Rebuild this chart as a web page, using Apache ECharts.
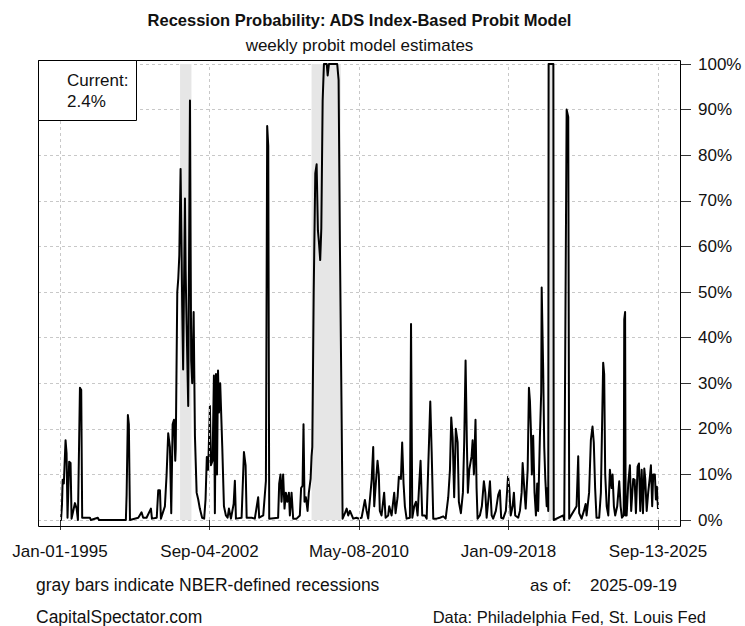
<!DOCTYPE html>
<html><head><meta charset="utf-8">
<script src="https://cdn.jsdelivr.net/npm/echarts@6/dist/echarts.min.js"></script>
<style>html,body{margin:0;padding:0;background:#fff}#c{width:745px;height:626px}</style>
</head><body><div id="c"></div>
<script>
// ---- data ----
const dates = [
'1995-01-01','1995-01-20','1995-02-07','1995-02-20','1995-03-14','1995-04-15','1995-05-04','1995-05-22','1995-06-22','1995-07-18','1995-08-06','1995-10-08','1995-11-09','1995-12-03',
'1996-01-10','1996-02-03','1996-02-21','1996-07-15','1996-08-01','1996-12-10',
'1997-01-01','1998-05-20','1998-06-03','1998-06-27','1998-07-15','1998-08-05',
'1999-01-08','1999-03-10','1999-04-10','1999-06-12','1999-09-02','1999-09-21','1999-12-20',
'2000-01-17','2000-02-18','2000-03-07','2000-05-21','2000-06-22','2000-07-22','2000-08-23','2000-09-17','2000-10-13','2000-11-07','2000-12-01','2000-12-10',
'2001-01-08','2001-01-27','2001-02-15','2001-03-11','2001-03-29','2001-04-10','2001-04-28','2001-06-01','2001-06-13','2001-07-02','2001-08-01','2001-09-03','2001-09-15','2001-09-26','2001-10-15','2001-11-11','2001-12-05',
'2002-01-06','2002-02-05','2002-03-07','2002-04-19','2002-05-27','2002-06-22','2002-07-16','2002-08-10','2002-09-12','2002-10-01','2002-11-01','2002-11-26','2002-12-14',
'2003-01-04','2003-01-23','2003-02-11','2003-03-01','2003-03-24','2003-05-01','2003-06-02','2003-07-09','2003-08-10','2003-09-04','2003-10-11','2003-12-01','2003-12-24',
'2004-01-13','2004-04-28','2004-06-11','2004-07-12','2004-08-01','2004-11-03',
'2005-01-01','2005-03-05','2005-03-24','2005-06-08','2005-07-28','2005-08-21','2005-09-10','2005-09-28',
'2006-03-14','2006-04-03','2006-04-28','2006-05-17','2006-06-16','2006-07-12','2006-08-06','2006-09-01','2006-10-02','2006-10-20','2006-11-21','2006-12-21',
'2007-02-24','2007-04-25','2007-05-19','2007-06-15','2007-07-03','2007-07-22','2007-08-16','2007-09-17','2007-10-11','2007-11-13','2007-12-01','2007-12-15',
'2008-01-10','2008-02-09','2008-03-05','2008-03-29','2008-04-17','2008-05-11','2008-06-01','2008-06-26','2008-07-20','2008-09-10','2008-09-28','2008-10-22',
'2009-03-26','2009-04-21','2009-05-15','2009-06-13','2009-07-05','2009-08-18','2009-09-19','2009-10-19','2009-11-20',
'2010-01-20','2010-03-24','2010-04-24','2010-06-26','2010-08-27','2010-09-28','2010-10-28',
'2011-01-01','2011-01-30','2011-02-18','2011-03-20','2011-04-21','2011-05-15','2011-06-03','2011-07-05','2011-08-23','2011-09-19','2011-11-07','2011-11-26',
'2012-01-10','2012-02-28','2012-03-24','2012-05-01','2012-05-25','2012-07-02','2012-07-26','2012-08-21','2012-09-15','2012-10-17','2012-12-18',
'2013-01-08','2013-02-01','2013-03-09','2013-04-10','2013-05-11','2013-06-11','2013-07-06','2013-08-06','2013-09-26','2013-10-28','2013-11-28',
'2014-01-04','2014-01-30','2014-03-01','2014-05-03','2014-07-03','2014-09-04','2014-10-19','2014-12-07',
'2015-01-08','2015-02-01','2015-02-28','2015-03-28','2015-04-28','2015-06-01','2015-06-24','2015-08-01','2015-09-08','2015-10-02','2015-10-28','2015-11-21','2015-12-10',
'2016-01-05','2016-02-18','2016-03-08','2016-04-01','2016-05-01','2016-05-21','2016-06-09','2016-07-22','2016-08-28','2016-10-05','2016-11-01','2016-11-26',
'2017-01-02','2017-01-27','2017-02-28','2017-03-28','2017-05-17','2017-07-01','2017-08-01','2017-08-25','2017-10-02','2017-11-21',
'2018-01-01','2018-01-25','2018-02-20','2018-03-28','2018-04-21','2018-05-15','2018-07-11','2018-08-12','2018-09-13','2018-10-02','2018-11-01','2018-11-28',
'2019-01-04','2019-01-28','2019-02-16','2019-03-05','2019-03-24','2019-04-17','2019-05-13','2019-06-08','2019-07-02','2019-07-20','2019-08-21','2019-09-15','2019-09-24','2019-10-22','2019-11-11','2019-12-01','2019-12-27',
'2020-01-13','2020-01-25','2020-02-01','2020-04-30','2020-05-07','2020-11-01','2020-11-20',
'2021-01-04','2021-02-03','2021-02-21','2021-07-09','2021-08-09','2021-08-27','2021-10-11','2021-11-24','2021-12-26',
'2022-01-13','2022-03-01','2022-04-03','2022-05-04','2022-05-28','2022-06-22','2022-07-18','2022-09-06','2022-10-08','2022-10-27','2022-11-20','2022-12-09','2022-12-28',
'2023-01-25','2023-02-24','2023-03-26','2023-04-27','2023-05-15','2023-06-09','2023-07-03','2023-08-10','2023-09-17','2023-10-13','2023-11-07','2023-12-10','2023-12-20',
'2024-01-05','2024-01-15','2024-02-03','2024-03-04','2024-04-04','2024-04-28','2024-06-05','2024-07-02','2024-07-26','2024-08-27','2024-09-21','2024-10-15','2024-11-11','2024-12-05','2024-12-30',
'2025-01-17','2025-02-13','2025-03-13','2025-04-14','2025-05-03','2025-05-27','2025-06-15','2025-07-16','2025-08-05','2025-08-23','2025-09-13'
];
const probs = [
0,0,3.3,8.8,8,17.5,14.7,0.5,12.8,12.5,0.3,3.7,2.5,0,
29,28.5,0.5,0.5,0,0.5,
0,0,5.5,23,21,0,
0.5,1.7,0.5,0.5,2.5,0.3,0.5,
6.5,6.5,0.3,3,10,19,16,1.5,21,22,13,15.6,
50,53,58,77,60,47,33,70.5,55,43,25,92,60,35,30,45.6,18.5,
6,4.5,2.5,0.5,0.3,4.5,13.8,11,25,12,13,31.7,1.5,
32,10,32.8,23.6,30,16.3,3,1,0.5,2.5,0.3,3.5,8.6,
0.3,0.5,14.9,12,0.5,0.5,
0.3,5,0.5,1,8.6,86.4,82,0.3,
0.5,8,10,4,10,2.5,6,4,6,1,6,0.3,
0.3,1,7,7.5,21,4,5,2,6,9,14,16,
50,76,78,63.5,61,57,64,92,100,100,97.5,100,
100,96.5,61,27,0.3,1.5,2.5,1,2,
0.3,0.5,0.3,0.5,4.4,2,0.3,
8.8,16,3,8,13,10,2,1,6,0.5,1,3,
1,6,1.5,5,9.5,9,17,8,3,0.3,0.5,
43,0.5,3,4,1,8,13,1,1,0.3,12,
26,15,0.3,0.3,0.5,0.8,0.3,5,
11,22.5,18,5,20,17,4,1.5,6,17,35,17,6,
11,14,17.5,10,22,7,0.3,1,3,8.5,6,0.5,
5,8.5,1,0.3,2,5.5,6.5,0.5,0.3,2,
9.5,7,1,3,6,1,0.5,2,6,12.5,7,2.5,
11,29,26,20,10,18.5,6,1,8,2,18,28,51,33,16,9,3,
7,2,100,100,0,1,0,
90,88.4,0.3,3,14,1.5,0.3,2,3.5,
1,6,17.5,20.5,17,7,0.5,0.5,6,18.5,34.5,32,10,
3,1,11,7,10,3,1,3,8.5,3,0.5,1,44,
45.6,1,1,8,12,2,9,8.8,1.5,11.7,12.4,2,11,1.5,11.3,
9,2,6,9.5,12,3,10,10,4.5,7.3,2.4
];
const recessionStarts = ['2001-03-01','2007-12-01','2020-02-01'];
const recessionEnds   = ['2001-10-01','2009-06-01','2020-04-30'];
const xTickDates  = ['1995-01-01','2002-09-04','2010-05-08','2018-01-09','2025-09-13'];
const xTickLabels = ['Jan-01-1995','Sep-04-2002','May-08-2010','Jan-09-2018','Sep-13-2025'];
const yTickValues = [0,10,20,30,40,50,60,70,80,90,100];

// ---- chart ----
const ts = s => new Date(s + 'T00:00:00Z').getTime();
const tickTs = xTickDates.map(ts);
const t0 = tickTs[0], t1 = tickTs[tickTs.length - 1], span = t1 - t0;
const FONT = '"Liberation Sans", Arial, sans-serif';
const FS = 17;
const chart = echarts.init(document.getElementById('c'), null, {renderer: 'svg'});
const current = probs[probs.length - 1].toFixed(1) + '%';
const labelFor = v => { let best = 0; tickTs.forEach((t, i) => { if (Math.abs(t - v) < Math.abs(tickTs[best] - v)) best = i; }); return xTickLabels[best]; };
const txt = (x, y, text, extra) => ({type: 'text', x, y, style: Object.assign({text, font: FS + 'px ' + FONT, fill: '#111', verticalAlign: 'middle'}, extra || {})});

chart.setOption({
  animation: false,
  backgroundColor: '#fff',
  grid: {left: 38, right: 64, top: 64, bottom: 106},
  xAxis: {
    type: 'value', scale: true, min: t0 - span * 22 / 598, max: t1 + span * 23 / 598, offset: 7,
    axisLine: {show: false},
    axisTick: {show: true, length: 10, lineStyle: {color: '#333', width: 1}, customValues: tickTs},
    axisLabel: {customValues: tickTs, margin: 16, fontSize: FS, color: '#111', fontFamily: FONT, formatter: labelFor},
    splitLine: {show: false}
  },
  yAxis: {
    type: 'value', position: 'right', min: yTickValues[0], max: yTickValues[yTickValues.length - 1], interval: 10,
    axisLine: {show: false},
    axisTick: {show: true, length: 10, lineStyle: {color: '#333', width: 1}},
    axisLabel: {formatter: v => v + '%', margin: 17, fontSize: FS, color: '#111', fontFamily: FONT},
    splitLine: {show: true, lineStyle: {color: '#c8c8c8', width: 1, type: [3, 3]}}
  },
  series: [{
    type: 'line',
    data: dates.map((d, i) => [ts(d), probs[i]]),
    showSymbol: false,
    lineStyle: {color: '#000', width: 2, join: 'round', cap: 'butt'},
    markArea: {silent: true, itemStyle: {color: '#e6e6e6'},
      data: recessionStarts.map((s, i) => [{xAxis: ts(s)}, {xAxis: ts(recessionEnds[i])}])},
    markLine: {silent: true, symbol: 'none', label: {show: false}, animation: false,
      lineStyle: {color: '#c8c8c8', width: 1, type: [3, 3]},
      data: tickTs.map(t => ({xAxis: t}))}
  }],
  graphic: [
    {type: 'rect', z: 50, shape: {x: 38.5, y: 60.5, width: 642, height: 466}, style: {fill: 'none', stroke: '#000', lineWidth: 1}},
    {type: 'rect', z: 60, shape: {x: 38.5, y: 60.5, width: 98, height: 60}, style: {fill: '#fff', stroke: '#000', lineWidth: 1}},
    Object.assign(txt(67, 80, 'Current:'), {z: 61}),
    Object.assign(txt(67, 101, current), {z: 61}),
    txt(359.5, 20, 'Recession Probability: ADS Index-Based Probit Model', {font: 'bold 16.5px ' + FONT, align: 'center'}),
    txt(359.5, 45, 'weekly probit model estimates', {align: 'center'}),
    txt(36, 585, 'gray bars indicate NBER-defined recessions', {font: '17.5px ' + FONT}),
    txt(530, 585, 'as of:'),
    txt(590, 585, '2025-09-19'),
    txt(36, 617, 'CapitalSpectator.com', {font: '17.5px ' + FONT}),
    txt(706, 617, 'Data: Philadelphia Fed, St. Louis Fed', {font: '16.5px ' + FONT, align: 'right'})
  ]
});
</script></body></html>
